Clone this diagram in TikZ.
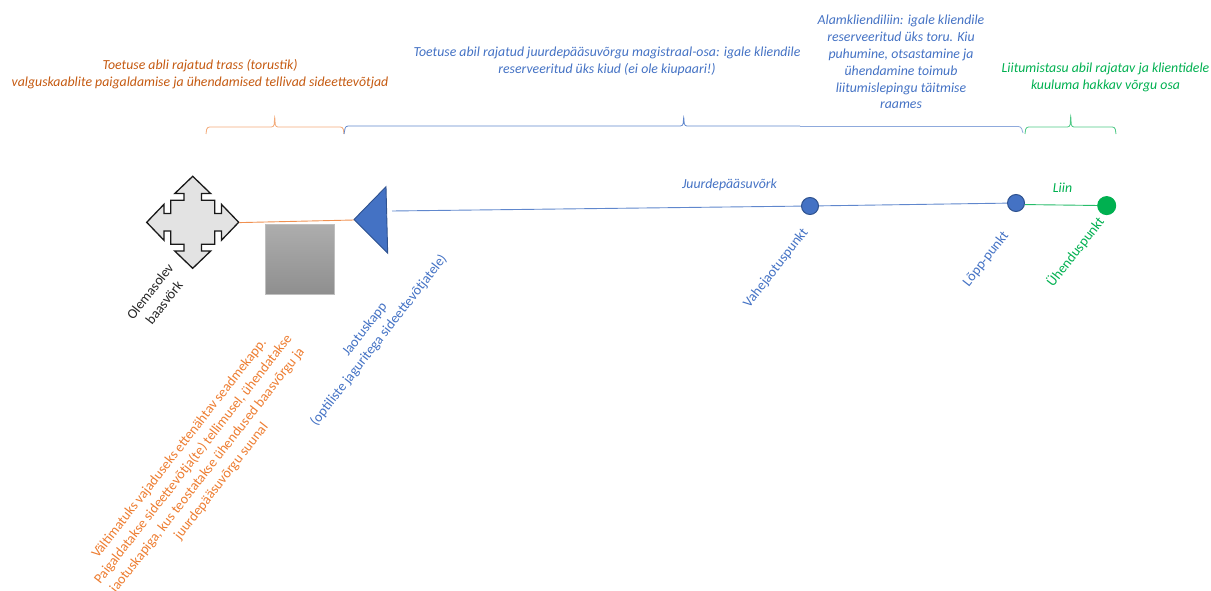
\documentclass[tikz,border=0pt]{standalone}
\usepackage{fontspec}
\setmainfont{Carlito}
\definecolor{cblue}{HTML}{4472C4}
\definecolor{cblued}{HTML}{2F528F}
\definecolor{corange}{HTML}{ED7D31}
\definecolor{cbrown}{HTML}{C55A11}
\definecolor{cgreen}{HTML}{00B050}
\tikzset{
  lab/.style={align=center,inner sep=0pt,font=\fontsize{13.8}{16.9}\selectfont\itshape},
  rot/.style={align=center,inner sep=0pt,rotate=52,font=\fontsize{14}{17.8}\selectfont},
  dot/.style={circle,inner sep=0pt,minimum size=17pt,fill=cblue,draw=cblued,line width=1pt},
  brace/.style={line width=0.8pt,rounded corners=2.5pt},
}
\begin{document}
\begin{tikzpicture}[x=1pt,y=-1pt]
\useasboundingbox (0,0) rectangle (1211,591);
% braces
\draw[brace,color=corange!65] (206,134) -- (207,127) -- (274,127) -- (274.7,116) -- (275.4,127) -- (343,127) -- (344,134);
\draw[brace,color=cblue!85] (344,134) -- (345.5,126) -- (683,126) -- (683.7,116) -- (684.4,126) -- (800,126);
\draw[brace,color=cblue!60] (800,126.5) -- (1021,126.5) -- (1023,133);
\draw[brace,color=cgreen!70] (1025,134) -- (1026,127) -- (1070,127) -- (1070.7,115) -- (1071.4,127) -- (1115,127) -- (1116,134);
% shapes
\coordinate (quadR) at (239.3,222.6);
\begin{scope}[shift={(192.7,222.3)}]
\draw[fill=black!11,draw=black!90,line width=1.3pt,line join=miter]
 (0,-46) -- (18,-28.7) -- (8.7,-28.7) -- (8.7,-22) -- (22,-22) -- (22,-8.7) -- (28.7,-8.7) -- (28.7,-18)
 -- (46,0) -- (28.7,18) -- (28.7,8.7) -- (22,8.7) -- (22,22) -- (8.7,22) -- (8.7,28.7) -- (18,28.7)
 -- (0,46) -- (-18,28.7) -- (-8.7,28.7) -- (-8.7,22) -- (-22,22) -- (-22,8.7) -- (-28.7,8.7) -- (-28.7,18)
 -- (-46,0) -- (-28.7,-18) -- (-28.7,-8.7) -- (-22,-8.7) -- (-22,-22) -- (-8.7,-22) -- (-8.7,-28.7) -- (-18,-28.7) -- cycle;
\end{scope}
\shade[top color=black!32,bottom color=black!44,shading angle=0] (265.3,224.3) rectangle (334.7,294);
\draw[black!25,line width=0.7pt] (265.3,224.3) rectangle (334.7,294);
\coordinate (triL) at (354,220);
\coordinate (triR) at (392,211);
\draw[fill=cblue,draw=cblued,line width=0.9pt,line join=miter] (354,219.5) -- (386,186.7) -- (387.7,253.3) -- cycle;
% points
\node[dot] (vahe) at (810,206) {};
\node[dot] (lopp) at (1016,203) {};
\node[dot,minimum size=18pt,fill=cgreen,draw=cgreen] (yhend) at (1106.7,205.6) {};
% connectors
\draw[color=corange!85,line width=0.9pt] (quadR) -- (triL);
\draw[color=cblue!85,line width=0.9pt] (triR) -- (vahe);
\draw[color=cblue!85,line width=0.9pt] (vahe) -- (lopp);
\draw[color=cgreen!85,line width=0.9pt] (lopp.-10) -- (yhend);
% top labels
\node[lab,text=cbrown] (t1) at (200,74) {Toetuse abli rajatud trass (torustik)\\valguskaablite paigaldamise ja ühendamised tellivad sideettevõtjad};
\node[lab,text=cblue] (t2) at (607,61) {Toetuse abil rajatud juurdepääsuvõrgu magistraal-osa: igale kliendile\\reserveeritud üks kiud (ei ole kiupaari!)};
\node[lab,text=cblue] (t3) at (901,62) {Alamkliendiliin: igale kliendile\\reserveeritud üks toru. Kiu\\puhumine, otsastamine ja\\ühendamine toimub\\liitumislepingu täitmise\\raames};
\node[lab,text=cgreen] (t4) at (1105.5,77) {Liitumistasu abil rajatav ja klientidele\\kuuluma hakkav võrgu osa};
\node[lab,text=cblue] (l1) at (729.5,185) {Juurdepääsuvõrk};
\node[lab,text=cgreen] (l2) at (1062.5,188) {Liin};
% rotated labels
\node[rot,text=black!85] (r1) at (157,297) {Olemasolev\\baasvörk};
\node[rot,text=corange] (r2) at (200.5,465) {Vältimatuks vajaduseks ettenähtav seadmekapp.\\Paigaldatakse sideettevõtja(te) tellimusel, ühendatakse\\jaotuskapiga, kus teostatakse ühendused baasvõrgu ja\\juurdepääsuvõrgu suunal};
\node[rot,text=cblue] (r3) at (372,335) {Jaotuskapp\\(optiliste jaguritega sideettevõtjatele)};
\node[rot,text=cblue] (r4) at (776,268) {Vahejaotuspunkt};
\node[rot,text=cblue] (r5) at (986,259) {Lõpp-punkt};
\node[rot,text=cgreen] (r6) at (1075.5,252) {Ühenduspunkt};
\end{tikzpicture}
\end{document}
